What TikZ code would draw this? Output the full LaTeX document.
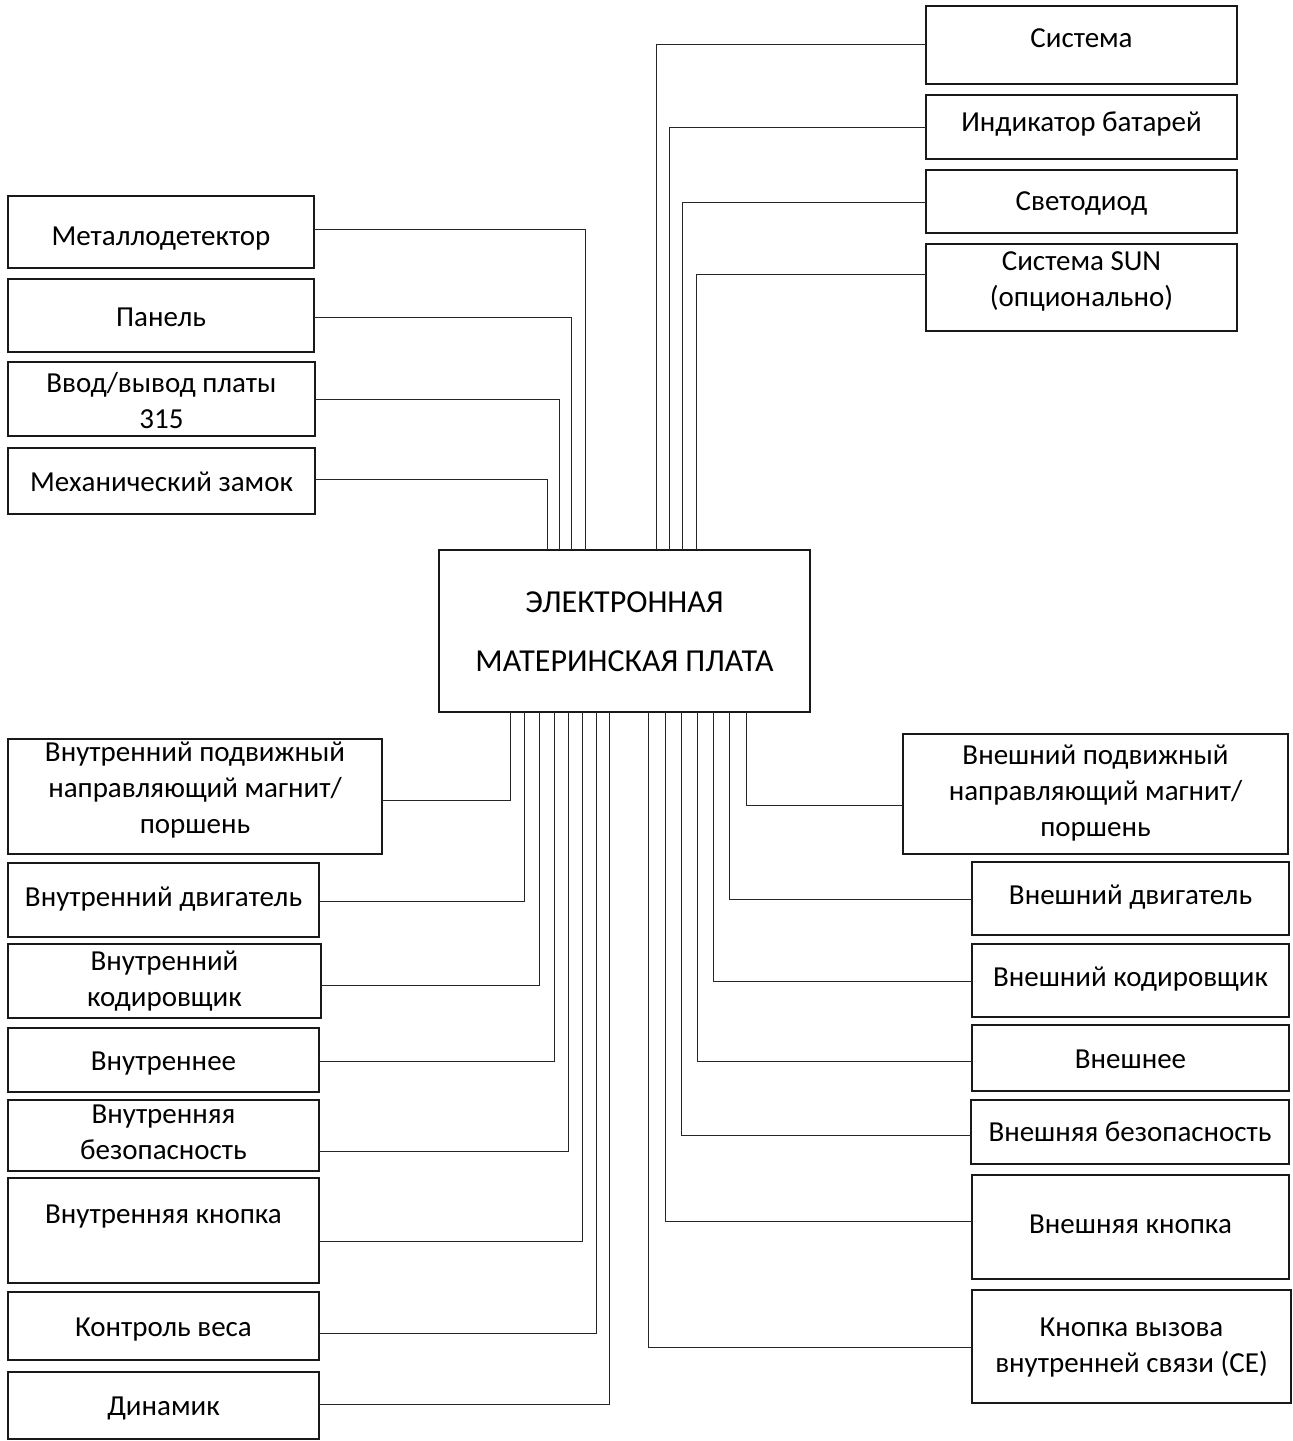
\documentclass[tikz,border=0pt]{standalone}
\usepackage{fontspec}
\setmainfont{Carlito}
\begin{document}
\begin{tikzpicture}[x=1pt,y=-1pt,
  bx/.style={draw=black!90, line width=1.7pt, inner sep=0pt, outer sep=0pt},
  txt/.style={align=center, inner sep=0pt, font=\fontsize{29}{36}\selectfont, yshift=-3pt,
    execute at begin node=\strut, execute at end node=\strut},
  wire/.style={draw=black!85, line width=1pt}]
\useasboundingbox (0,0) rectangle (1293,1441);
\newcommand\mybox[7]{%
  \pgfmathsetmacro\cx{(#2+#4)/2}\pgfmathsetmacro\cy{(#3+#5)/2}%
  \pgfmathsetmacro\ww{#4-#2}\pgfmathsetmacro\hh{#5-#3}%
  \node[bx, minimum width=\ww pt, minimum height=\hh pt] (#1) at (\cx,\cy) {};
  \node[txt] (#1t) at (\cx,#6) {#7};}

% main board
\node[bx, minimum width=371pt, minimum height=162pt] (M) at (624.5,631) {};
\node[align=center, inner sep=0pt, font=\fontsize{32}{59}\selectfont,
  execute at begin node=\strut, execute at end node=\strut] (Mt) at (624.5,640) {ЭЛЕКТРОННАЯ\\МАТЕРИНСКАЯ ПЛАТА};

% top right
\mybox{sys}{926}{6}{1237}{84}{37}{Система}
\mybox{ind}{926}{95}{1237}{159}{121}{Индикатор батарей}
\mybox{led}{926}{170}{1237}{233}{200}{Светодиод}
\mybox{sun}{926}{244}{1237}{331}{281}{Система SUN\\(опционально)}

% top left
\mybox{met}{8}{196}{314}{268}{235}{Металлодетектор}
\mybox{pan}{8}{279}{314}{352}{316}{Панель}
\mybox{io}{8}{362}{315}{436}{403}{Ввод/вывод платы\\315}
\mybox{mech}{8}{448}{315}{514}{481}{Механический замок}

% bottom left
\mybox{inmag}{8}{739}{382}{854}{790}{Внутренний подвижный\\направляющий магнит/\\поршень}
\mybox{inmot}{8}{863}{319}{937}{896}{Внутренний двигатель}
\mybox{inenc}{8}{944}{321}{1018}{981}{Внутренний\\кодировщик}
\mybox{inner}{8}{1028}{319}{1092}{1060}{Внутреннее}
\mybox{insec}{8}{1100}{319}{1171}{1135}{Внутренняя\\безопасность}
\mybox{inbtn}{8}{1178}{319}{1283}{1213}{Внутренняя кнопка}
\mybox{weight}{8}{1292}{319}{1360}{1326}{Контроль веса}
\mybox{spk}{8}{1372}{319}{1439}{1405}{Динамик}

% bottom right
\mybox{exmag}{903}{734}{1288}{854}{793}{Внешний подвижный\\направляющий магнит/\\поршень}
\mybox{exmot}{972}{862}{1289}{935}{894}{Внешний двигатель}
\mybox{exenc}{972}{944}{1289}{1017}{976}{Внешний кодировщик}
\mybox{exter}{972}{1025}{1289}{1091}{1058}{Внешнее}
\mybox{exsec}{971}{1100}{1289}{1164}{1131}{Внешняя безопасность}
\mybox{exbtn}{972}{1175}{1289}{1279}{1223}{Внешняя кнопка}
\mybox{call}{972}{1290}{1291}{1403}{1348}{Кнопка вызова\\внутренней связи (CE)}

% connectors top
\draw[wire] (sys.west |- 0,44)  -| (M.north -| 656,0);
\draw[wire] (ind.west |- 0,127) -| (M.north -| 669,0);
\draw[wire] (led.west |- 0,202) -| (M.north -| 682,0);
\draw[wire] (sun.west |- 0,274) -| (M.north -| 696,0);
\draw[wire] (met.east |- 0,229) -| (M.north -| 585,0);
\draw[wire] (pan.east |- 0,317) -| (M.north -| 571,0);
\draw[wire] (io.east |- 0,399)  -| (M.north -| 559,0);
\draw[wire] (mech.east |- 0,479) -| (M.north -| 547,0);

% connectors bottom left
\draw[wire] (inmag.east |- 0,800)  -| (M.south -| 510,0);
\draw[wire] (inmot.east |- 0,901)  -| (M.south -| 524,0);
\draw[wire] (inenc.east |- 0,985)  -| (M.south -| 539,0);
\draw[wire] (inner.east |- 0,1061) -| (M.south -| 554,0);
\draw[wire] (insec.east |- 0,1151) -| (M.south -| 568,0);
\draw[wire] (inbtn.east |- 0,1241) -| (M.south -| 582,0);
\draw[wire] (weight.east |- 0,1333) -| (M.south -| 596,0);
\draw[wire] (spk.east |- 0,1404)   -| (M.south -| 609,0);

% connectors bottom right
\draw[wire] (exmag.west |- 0,805)  -| (M.south -| 746,0);
\draw[wire] (exmot.west |- 0,899)  -| (M.south -| 729,0);
\draw[wire] (exenc.west |- 0,981)  -| (M.south -| 713,0);
\draw[wire] (exter.west |- 0,1061) -| (M.south -| 697,0);
\draw[wire] (exsec.west |- 0,1135) -| (M.south -| 681,0);
\draw[wire] (exbtn.west |- 0,1221) -| (M.south -| 665,0);
\draw[wire] (call.west |- 0,1347)  -| (M.south -| 648,0);
\end{tikzpicture}
\end{document}
